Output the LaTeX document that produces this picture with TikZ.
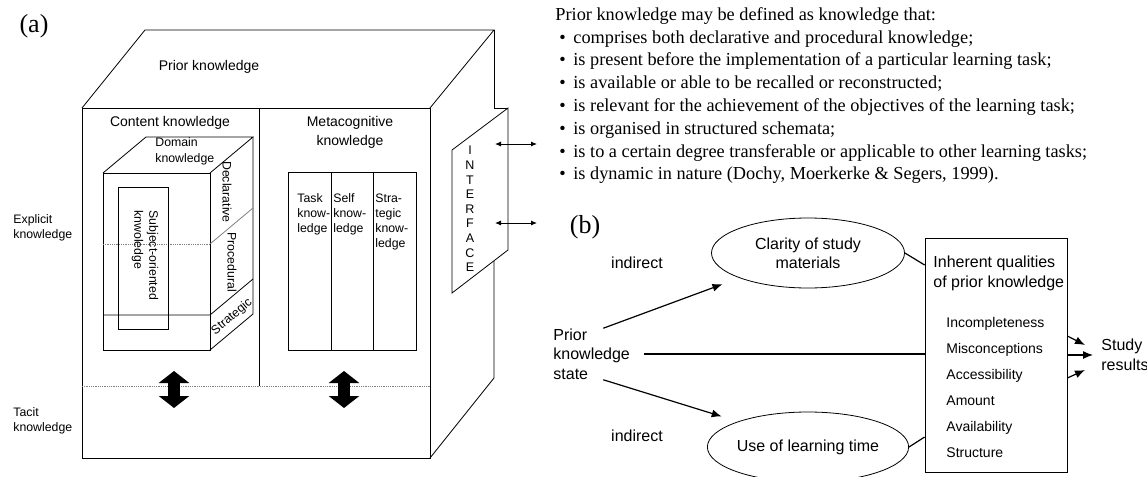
\documentclass[tikz,border=0pt]{standalone}
\usepackage{fontspec}
\setmainfont{Liberation Serif}
\setsansfont{Liberation Sans}
\usetikzlibrary{arrows.meta,positioning,shapes.geometric,calc}
\newcommand\bul{\hspace*{4pt}\makebox[14pt][l]{\textbullet}}

\begin{document}
\begin{tikzpicture}[x=1pt, y=-1pt, line width=0.8pt]
    \tikzstyle{txt} = [inner sep=0pt, font=\sffamily\fontsize{14}{19}\selectfont, align=center]
    \tikzstyle{small} = [inner sep=0pt, font=\sffamily\fontsize{12.3}{15}\selectfont, align=left]
    \tikzstyle{lbl} = [inner sep=0pt, font=\sffamily\fontsize{16}{19.5}\selectfont, align=left]
    \tikzstyle{item} = [inner sep=0pt, font=\sffamily\fontsize{14}{17}\selectfont, anchor=base west]
    \tikzstyle{oval} = [draw, ellipse, inner sep=0pt, minimum width=193pt, minimum height=70pt, font=\sffamily\fontsize{16}{19}\selectfont, align=center]
    \tikzstyle{arr} = [-{Latex[length=10pt, width=8pt]}, line width=1.2pt]
    \tikzstyle{fat} = [{Triangle[width=30pt, length=12pt]}-{Triangle[width=30pt, length=12pt]}, line width=12pt]
    \tikzstyle{twoway} = [{Latex[length=6pt, width=5pt]}-{Latex[length=6pt, width=5pt]}, line width=0.9pt]

    \clip (0,0) rectangle (1147,476);

    \node [inner sep=0pt, font=\fontsize{26}{30}\selectfont] (pa) at (34,26) {(a)};

    \draw (82,108) rectangle (430,458);
    \draw (82,108) -- (145,30) -- (494,30) -- (430,108);
    \draw (494,30) -- (494,108) -- (508,108);
    \draw (494,261) -- (494,378) -- (430,458);
    \draw (452,150) -- (508,108) -- (508,250) -- (452,293) -- cycle;
    \draw (259,108) -- (259,386);
    \draw [densely dotted, gray] (82,386) -- (430,386);

    \draw (103,173) rectangle (210,350);
    \draw (103,173) -- (146,137) -- (253,137) -- (210,173);
    \draw (253,137) -- (253,314) -- (210,350);
    \draw (103,315) -- (210,315) -- (253,279);
    \draw [densely dotted, gray] (103,244) -- (210,244);
    \draw [gray] (210,244) -- (253,208);
    \draw (118,187) rectangle (168,329);

    \draw (288,172) rectangle (416,350);
    \draw (331,172) -- (331,350);
    \draw (373,172) -- (373,350);

    \node [txt] (prior) at (209,67) {Prior knowledge};
    \node [txt] (content) at (170,123) {Content knowledge};
    \node [txt] (meta) at (350,132) {Metacognitive\\knowledge};
    \node [small, font=\sffamily\fontsize{12.3}{16}\selectfont, anchor=west] (domain) at (155,151) {Domain\\knowledge};
    \node [small, rotate=-90, anchor=west] (subject) at (145,210) {Subject-oriented\\knwoledge};
    \node [small, rotate=-90] (decl) at (227,192) {Declarative};
    \node [small, rotate=-90] (proc) at (232,262) {Procedural};
    \node [small, rotate=40] (strat) at (232,317) {Strategic};
    \node [small, anchor=west] (task) at (297,214) {Task\\know-\\ledge};
    \node [small, anchor=west] (self) at (333,214) {Self\\know-\\ledge};
    \node [small, anchor=west] (stra) at (375,222) {Stra-\\tegic\\know-\\ledge};
    \node [small, anchor=west] (explicit) at (13,228) {Explicit\\knowledge};
    \node [small, anchor=west] (tacit) at (13,421) {Tacit\\knowledge};
    \node [inner sep=0pt, align=center, font=\sffamily\fontsize{12.5}{14.6}\selectfont] (iface) at (470,209) {I\\N\\T\\E\\R\\F\\A\\C\\E};

    \coordinate (up1) at (174,371);
    \coordinate (dn1) at (174,408);
    \coordinate (up2) at (344,371);
    \coordinate (dn2) at (344,408);
    \draw [fat] (up1) -- (dn1);
    \draw [fat] (up2) -- (dn2);
    \coordinate (ia) at (495,144);
    \coordinate (ib) at (495,223);
    \draw [twoway] (ia) -- ++(42,0);
    \draw [twoway] (ib) -- ++(42,0);

    \node [anchor=north west, inner sep=0pt, align=left, font=\fontsize{18.3}{22.8}\selectfont] (def) at (555,7) {Prior knowledge may be defined as knowledge that:\\
    \bul comprises both declarative and procedural knowledge;\\
    \bul is present before the implementation of a particular learning task;\\
    \bul is available or able to be recalled or reconstructed;\\
    \bul is relevant for the achievement of the objectives of the learning task;\\
    \bul is organised in structured schemata;\\
    \bul is to a certain degree transferable or applicable to other learning tasks;\\
    \bul is dynamic in nature (Dochy, Moerkerke \& Segers, 1999).};

    \node [inner sep=0pt, font=\fontsize{26}{30}\selectfont] (pb) at (585,227) {(b)};
    \node [lbl, anchor=west] (state) at (553,354) {Prior\\knowledge\\state};
    \node [oval] (clarity) at (808,253) {Clarity of study\\materials};
    \node [oval] (usetime) at (808,447) {Use of learning time};
    \node [draw, minimum width=142pt, minimum height=234pt, inner sep=0pt] (qual) at (996,355) {};
    \node [lbl, anchor=west] (inh) at (933,263) {Inherent qualities};
    \node [lbl, below=13pt of inh.south west, anchor=west] (ofprior) {of prior knowledge};
    \foreach \t [count=\i] in {Incompleteness,Misconceptions,Accessibility,Amount,Availability,Structure}
        \node [item] (q\i) at (946,301+26*\i) {\t};
    \node [lbl, anchor=west] (study) at (1101,355) {Study\\results};
    \node [lbl] (ind1) at (637,263) {indirect};
    \node [lbl] (ind2) at (637,436) {indirect};

    \draw [arr, shorten >=18pt] ([xshift=-27pt]state.north east) -- (clarity.200);
    \draw [arr, shorten >=17pt] ([xshift=-27pt]state.south east) -- (usetime.160);
    \draw [line width=1.2pt, shorten <=14pt] (state.east) -- (state.east -| qual.west);
    \draw [line width=1.2pt] (clarity.east) -- ($(qual.west |- clarity.east)+(0,12)$);
    \draw [line width=1.2pt] (usetime.east) -- ($(qual.west |- usetime.east)+(0,-10)$);
    \draw [arr] (qual.east |- study.west) -- ([xshift=-8pt]study.west);
    \draw [arr] ($(qual.east |- study.west)+(0,-19)$) -- ($(study.west)+(-16,-10)$);
    \draw [arr] ($(qual.east |- study.west)+(0,23)$) -- ($(study.west)+(-16,15)$);
\end{tikzpicture}
\end{document}
